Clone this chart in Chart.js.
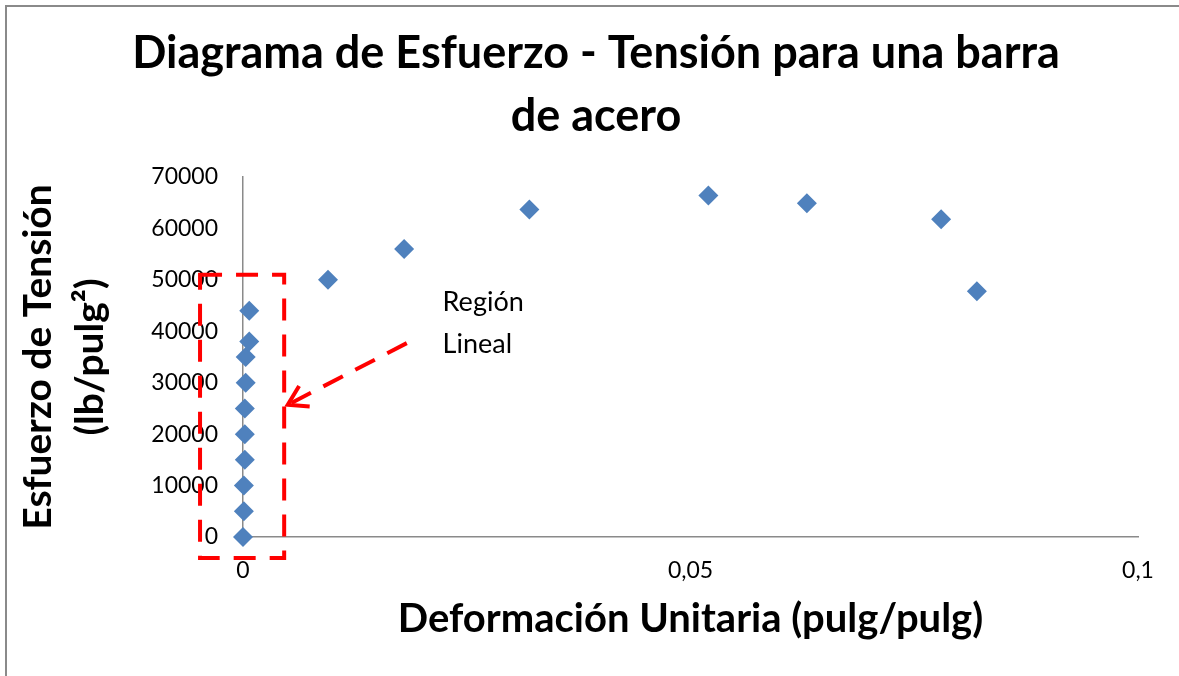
<!DOCTYPE html>
<html lang="es">
<head>
<meta charset="utf-8">
<title>Diagrama de Esfuerzo - Tensión</title>
<script src="https://cdn.jsdelivr.net/npm/chart.js@4.4.0/dist/chart.umd.min.js"></script>
<style>
  html, body { margin: 0; padding: 0; background: #fff; overflow: hidden; }
  #wrap { position: relative; width: 1179px; height: 676px; }
  #frame { position: absolute; left: 5px; top: 5px; width: 2000px; height: 2000px;
           border: 2px solid #8a8a8a; pointer-events: none; }
</style>
</head>
<body>
<div id="wrap">
  <canvas id="stressChart" width="1179" height="676"></canvas>
  <div id="frame"></div>
</div>
<script>
/* ── Datos ──────────────────────────────────── */
const deformacion = [0, 0.0001, 0.0001, 0.0002, 0.0002, 0.0002, 0.0003, 0.0003, 0.0007, 0.0007,
                     0.0095, 0.018, 0.032, 0.052, 0.063, 0.078, 0.082];
const esfuerzo    = [0, 5000, 10000, 15000, 20000, 25000, 30000, 35000, 38000, 44000,
                     50000, 56000, 63700, 66400, 64900, 61800, 47800];
const xTickLabels = ['0', '0,05', '0,1'];
const yTickLabels = ['0', '10000', '20000', '30000', '40000', '50000', '60000', '70000'];

/* ── Anotación "Región Lineal" (en unidades de datos) ── */
const region = { xMin: -0.0048, xMax: 0.0046, yMin: -4100, yMax: 51000 };
const flecha = { from: [0.0183, 37700], to: [0.005, 25700] };
const textoRegion = [
  { text: 'Región', x: 0.0223, y: 44000 },
  { text: 'Lineal', x: 0.0223, y: 35800 },
];

const FONT = 'Lato, "Open Sans", sans-serif';
const AXIS_GRAY = '#8a8a8a';

const regionPlugin = {
  id: 'regionLineal',
  afterDraw(chart) {
    const { ctx, scales: { x, y } } = chart;
    ctx.save();
    ctx.strokeStyle = '#FF0000';
    ctx.lineWidth = 4;
    ctx.setLineDash([22, 14]);

    // rectángulo punteado
    const l = x.getPixelForValue(region.xMin), r = x.getPixelForValue(region.xMax);
    const t = y.getPixelForValue(region.yMax), b = y.getPixelForValue(region.yMin);
    ctx.beginPath();
    ctx.moveTo(l, t); ctx.lineTo(r, t); ctx.lineTo(r, b); ctx.lineTo(l, b); ctx.closePath();
    ctx.stroke();

    // flecha
    const x0 = x.getPixelForValue(flecha.from[0]), y0 = y.getPixelForValue(flecha.from[1]);
    const x1 = x.getPixelForValue(flecha.to[0]),   y1 = y.getPixelForValue(flecha.to[1]);
    ctx.beginPath(); ctx.moveTo(x0, y0); ctx.lineTo(x1, y1); ctx.stroke();
    ctx.setLineDash([]);
    const ang = Math.atan2(y1 - y0, x1 - x0);
    ctx.beginPath();
    ctx.moveTo(x1 - 22 * Math.cos(ang - 0.55), y1 - 22 * Math.sin(ang - 0.55));
    ctx.lineTo(x1, y1);
    ctx.lineTo(x1 - 22 * Math.cos(ang + 0.55), y1 - 22 * Math.sin(ang + 0.55));
    ctx.stroke();

    // texto
    ctx.fillStyle = '#000';
    ctx.font = '27px ' + FONT;
    ctx.textBaseline = 'alphabetic';
    ctx.textAlign = 'left';
    textoRegion.forEach(tx => ctx.fillText(tx.text, x.getPixelForValue(tx.x), y.getPixelForValue(tx.y)));
    ctx.restore();
  },
};

new Chart(document.getElementById('stressChart'), {
  type: 'scatter',
  data: {
    datasets: [{
      label: 'Esfuerzo',
      data: deformacion.map((d, i) => ({ x: d, y: esfuerzo[i] })),
      pointStyle: 'rectRot',
      pointRadius: 10,
      borderWidth: 0,
      backgroundColor: '#4F81BD',
      borderColor: '#4F81BD',
      clip: false,
    }],
  },
  options: {
    responsive: false,
    animation: false,
    events: [],
    // left padding keeps the title centred like the original
    layout: { padding: { left: 54, top: 0, right: 41, bottom: 0 } },
    plugins: {
      legend: { display: false },
      tooltip: { enabled: false },
      title: {
        display: true,
        text: ['Diagrama de Esfuerzo - Tensión para una barra', 'de acero'],
        color: '#000',
        font: { family: FONT, size: 45, weight: 'bold', lineHeight: 1.4 },
        padding: { top: 22, bottom: 29 },
      },
    },
    scales: {
      x: {
        type: 'linear',
        min: 0, max: 0.1,
        grid: { display: false, drawTicks: false },
        border: { display: true, color: AXIS_GRAY, width: 1.5 },
        ticks: {
          stepSize: 0.05,
          padding: 20,
          color: '#000',
          font: { family: FONT, size: 23 },
          callback: (v, i) => xTickLabels[i],
        },
        title: {
          display: true,
          text: 'Deformación Unitaria (pulg/pulg)',
          color: '#000',
          font: { family: FONT, size: 40, weight: 'bold', lineHeight: 1.2 },
          padding: { top: 0, bottom: 32.5 },
        },
        afterFit: s => { s.height = 139; },
      },
      y: {
        type: 'linear',
        min: 0, max: 70000,
        grid: { display: false, drawTicks: false },
        border: { display: true, color: AXIS_GRAY, width: 1.5 },
        ticks: {
          stepSize: 10000,
          padding: 25,
          color: '#000',
          font: { family: FONT, size: 23 },
          callback: (v, i) => yTickLabels[i],
        },
        title: {
          display: true,
          text: ['Esfuerzo de Tensión', '(lb/pulg²)'],
          color: '#000',
          font: { family: FONT, size: 39, weight: 'bold', lineHeight: 1.33 },
          padding: { top: -41.6, bottom: 0 },
        },
        afterFit: s => { s.width = 189; },
      },
    },
  },
  plugins: [regionPlugin],
});
</script>
</body>
</html>
